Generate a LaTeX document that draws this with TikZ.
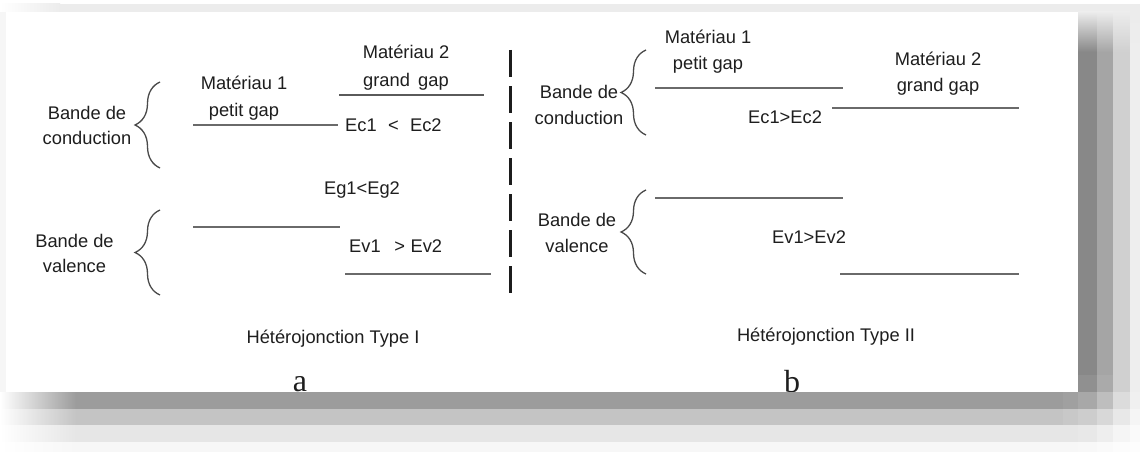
\documentclass[tikz,border=0pt]{standalone}
\usepackage{fontspec}
\setmainfont{Liberation Sans}
\newfontfamily\letterfont{Liberation Serif}
\usetikzlibrary{decorations.pathreplacing}

\definecolor{ink}{HTML}{1E1E1E}
\definecolor{levelcol}{HTML}{6A6A6A}
\definecolor{bracecol}{HTML}{4A4A4A}
\definecolor{sepcol}{HTML}{1C1C1C}
\definecolor{halo}{HTML}{ECECEC}
\definecolor{edgecol}{HTML}{F6F6F6}

\begin{document}
\begin{tikzpicture}[x=1pt,y=-1pt,
  lbl/.style={anchor=base,text=ink,inner sep=0pt,font=\fontsize{18.3}{27}\selectfont},
  lblw/.style={lbl,anchor=base west},
  letter/.style={anchor=base,text=ink,inner sep=0pt,font=\letterfont\fontsize{32}{34}\selectfont},
  level/.style={draw=levelcol,line width=1.9pt},
  bracket/.style={draw=bracecol,line width=1.3pt,decorate,decoration={brace,amplitude=25pt}},
  divider/.style={draw=sepcol,line width=3pt,dash pattern=on 27pt off 9pt},
]
\useasboundingbox (0,0) rectangle (1140,452);
\fill[white] (0,0) rectangle (1140,452);

% ---------- page ----------
\fill[white] (6,12) rectangle (1078,392);

% ---------- type I (left) ----------
\node[lbl] (bcA1) at (87,119) {Bande de};
\node[lbl] (bcA2) at (87,144) {conduction};
\coordinate (brcAtop) at (160,82);
\coordinate (brcAbot) at (160,168);
\draw[bracket] (brcAbot) -- (brcAtop);

\node[lbl] (mA1) at (244,89) {Matériau 1};
\node[lbl] (mA1b) at (244,116) {petit gap};
\coordinate (ecA1l) at (193,125);
\coordinate (ecA1r) at (338,125);
\draw[level] (ecA1l) -- (ecA1r);

\node[lbl] (mA2) at (406,59) {Matériau 2};
\node[lbl] (mA2b) at (406,86) {grand\hspace{0.45em}gap};
\coordinate (ecA2l) at (339,95);
\coordinate (ecA2r) at (484,95);
\draw[level,draw=levelcol!85!black] (ecA2l) -- (ecA2r);

\node[lblw] (ecA) at (345,131) {Ec1\hspace{0.62em}<\hspace{0.62em}Ec2};
\node[lbl] (egA) at (362,194) {Eg1<Eg2};

\node[lbl] (bvA1) at (74.5,247) {Bande de};
\node[lbl] (bvA2) at (74.5,272) {valence};
\coordinate (brvAtop) at (160,210);
\coordinate (brvAbot) at (160,295);
\draw[bracket] (brvAbot) -- (brvAtop);

\coordinate (evA1l) at (193,227);
\coordinate (evA1r) at (340,227);
\draw[level] (evA1l) -- (evA1r);
\node[lblw] (evA) at (349,252) {Ev1\hspace{0.75em}>\hspace{0.3em}Ev2};
\coordinate (evA2l) at (345,274);
\coordinate (evA2r) at (491,274);
\draw[level] (evA2l) -- (evA2r);

\node[lbl] (typeA) at (333,343) {Hétérojonction Type I};
\node[letter] (capA) at (300,391) {a};

% ---------- divider ----------
\coordinate (divtop) at (510,50);
\coordinate (divbot) at (510,297);
\draw[divider] (divtop) -- (divbot);

% ---------- type II (right) ----------
\node[lbl] (bcB1) at (579,99) {Bande de};
\node[lbl] (bcB2) at (579,124) {conduction};
\coordinate (brcBtop) at (646,50);
\coordinate (brcBbot) at (646,135);
\draw[bracket] (brcBbot) -- (brcBtop);

\node[lbl] (mB1) at (708,44) {Matériau 1};
\node[lbl] (mB1b) at (708,70) {petit gap};
\coordinate (ecB1l) at (655,88);
\coordinate (ecB1r) at (843,88);
\draw[level] (ecB1l) -- (ecB1r);

\node[lbl] (mB2) at (938,66) {Matériau 2};
\node[lbl] (mB2b) at (938,91) {grand gap};
\coordinate (ecB2l) at (832,108);
\coordinate (ecB2r) at (1019,108);
\draw[level] (ecB2l) -- (ecB2r);
\node[lblw] (ecB) at (748,123) {Ec1>Ec2};

\node[lbl] (bvB1) at (577,226) {Bande de};
\node[lbl] (bvB2) at (577,252) {valence};
\coordinate (brvBtop) at (646,190);
\coordinate (brvBbot) at (646,274);
\draw[bracket] (brvBbot) -- (brvBtop);

\coordinate (evB1l) at (655,198);
\coordinate (evB1r) at (843,198);
\draw[level] (evB1l) -- (evB1r);
\node[lblw] (evB) at (772,243) {Ev1>Ev2};
\coordinate (evB2l) at (840,274);
\coordinate (evB2r) at (1019,274);
\draw[level] (evB2l) -- (evB2r);

\node[lbl] (typeB) at (826,341) {Hétérojonction Type II};
\node[letter] (capB) at (792,392) {b};

% ---------- drop shadow around the page ----------
\shade[left color=white,right color=halo] (0,4) rectangle (60,12);
\fill[halo] (60,4) rectangle (1140,12);
\fill[edgecol] (0,12) rectangle (6,392);

% right-hand columns, fading in from the top
\foreach \xa/\xb/\c/\d in {1078/1097/888888/909090, 1097/1113/A5A5A5/AAAAAA,
                           1113/1130/D0D0D0/D0D0D0, 1130/1140/EEEEEE/EEEEEE}{
  \definecolor{colA}{HTML}{\c}
  \definecolor{colB}{HTML}{\d}
  \shade[top color=halo,bottom color=colA] (\xa,12) rectangle (\xb,52);
  \fill[colA] (\xa,52) rectangle (\xb,375);
  \fill[colB] (\xa,375) rectangle (\xb,392);
}

% bottom bands, fading in from the left
\foreach \ya/\yb/\c in {392/409/9C9C9C, 409/425/C4C4C4, 425/442/E6E6E6, 442/452/F7F7F7}{
  \definecolor{colA}{HTML}{\c}
  \shade[left color=white,right color=colA] (0,\ya) rectangle (76,\yb);
  \fill[colA] (76,\ya) rectangle (1063,\yb);
}

% bottom-right corner cells
\foreach \ya/\yb/\ca/\cb/\cc/\cd/\ce in {
    392/409/A0A0A0/A8A8A8/BEBEBE/DCDCDC/F0F0F0,
    409/425/C8C8C8/CDCDCD/D8D8D8/E8E8E8/F5F5F5,
    425/442/E6E6E6/E8E8E8/EEEEEE/F5F5F5/FAFAFA,
    442/452/F7F7F7/F8F8F8/FAFAFA/FCFCFC/FDFDFD}{
  \definecolor{cA}{HTML}{\ca}\definecolor{cB}{HTML}{\cb}
  \definecolor{cC}{HTML}{\cc}\definecolor{cD}{HTML}{\cd}
  \definecolor{cE}{HTML}{\ce}
  \fill[cA] (1063,\ya) rectangle (1078,\yb);
  \fill[cB] (1078,\ya) rectangle (1097,\yb);
  \fill[cC] (1097,\ya) rectangle (1113,\yb);
  \fill[cD] (1113,\ya) rectangle (1130,\yb);
  \fill[cE] (1130,\ya) rectangle (1140,\yb);
}
\end{tikzpicture}
\end{document}
